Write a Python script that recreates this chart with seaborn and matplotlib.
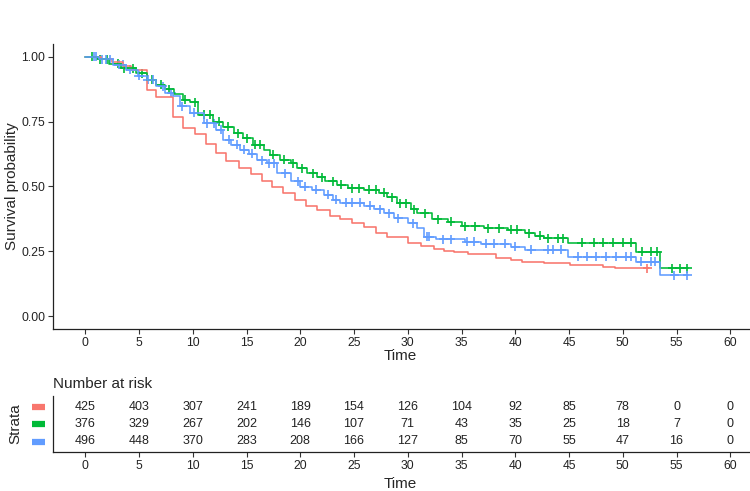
import numpy as np
import pandas as pd
import matplotlib
matplotlib.use("Agg")
import matplotlib.pyplot as plt
import seaborn as sns

sns.set_style("ticks")
plt.rcParams['font.family'] = ['Liberation Sans', 'DejaVu Sans']

# strata names and colours
strata = ["s1", "s2", "s3"]
colors = ["#F8766D", "#00BA38", "#619CFF"]

# step points (time, survival)
red_time = [0, 1.5, 2.5, 3.5, 4.3, 5.7, 6.6, 8.2, 9.1, 10.2, 11.2, 12.2, 13.1, 14.3, 15.4, 16.4,
            17.4, 18.4, 19.5, 20.5, 21.6, 22.8, 23.7, 24.8, 25.9, 27.0, 28.1, 30.0, 31.2, 32.4, 33.4,
            34.3, 35.6, 38.2, 39.6, 40.6, 42.7, 45.1, 48.2, 49.3, 52.4]
red_surv = [1.0, 0.99, 0.978, 0.965, 0.95, 0.873, 0.845, 0.768, 0.726, 0.70, 0.664, 0.63, 0.596, 0.57,
            0.547, 0.522, 0.499, 0.474, 0.448, 0.425, 0.407, 0.386, 0.376, 0.36, 0.342, 0.322, 0.306,
            0.283, 0.27, 0.26, 0.252, 0.248, 0.238, 0.223, 0.216, 0.21, 0.203, 0.196, 0.188, 0.184, 0.184]

green_time = [0, 1.2, 2.2, 3.3, 4.7, 5.7, 6.6, 7.4, 8.3, 9.1, 9.7, 10.5, 11.9, 12.8, 13.8, 14.7, 15.6,
              16.6, 17.2, 18.1, 19.1, 19.7, 20.6, 21.6, 22.3, 23.4, 24.4, 25.9, 27.3, 28.1, 29.0, 30.3,
              30.9, 32.3, 33.7, 35.0, 37.1, 39.3, 40.9, 41.8, 42.7, 44.9, 51.2, 53.5, 56.1]
green_surv = [1.0, 0.99, 0.973, 0.956, 0.937, 0.911, 0.892, 0.875, 0.857, 0.834, 0.824, 0.776, 0.75,
              0.729, 0.705, 0.686, 0.66, 0.641, 0.622, 0.603, 0.59, 0.57, 0.551, 0.536, 0.519, 0.506,
              0.493, 0.486, 0.476, 0.458, 0.435, 0.412, 0.397, 0.373, 0.364, 0.347, 0.339, 0.332, 0.319,
              0.309, 0.30, 0.283, 0.248, 0.184, 0.184]

blue_time = [0, 1.3, 2.6, 3.8, 4.9, 5.7, 6.6, 7.4, 8.2, 8.85, 9.7, 11.0, 12.2, 12.8, 13.6, 14.4, 15.2,
             16.0, 16.9, 17.8, 19.1, 20.0, 21.1, 22.2, 23.0, 23.7, 25.9, 26.9, 27.8, 28.7, 30.0, 30.9,
             31.5, 32.6, 35.3, 36.8, 39.6, 40.9, 44.9, 51.2, 53.5, 56.1]
blue_surv = [1.0, 0.99, 0.969, 0.95, 0.927, 0.911, 0.885, 0.86, 0.849, 0.808, 0.783, 0.744, 0.718, 0.68,
             0.66, 0.641, 0.625, 0.60, 0.59, 0.551, 0.519, 0.499, 0.486, 0.467, 0.448, 0.437, 0.425,
             0.412, 0.397, 0.377, 0.358, 0.339, 0.306, 0.296, 0.287, 0.278, 0.268, 0.255, 0.229, 0.21,
             0.158, 0.158]

# censoring times
red_cens = [52.3]
green_cens = [0.6, 1.4, 2.0, 3.0, 3.6, 4.4, 5.3, 6.2, 7.0, 7.8, 9.3, 10.2, 11.0, 11.6, 12.4, 13.3, 14.2,
              15.0, 15.8, 16.3, 17.5, 18.5, 19.3, 20.2, 21.2, 22.0, 23.0, 23.8, 24.8, 25.5, 26.4, 27.0,
              27.8, 28.5, 29.3, 29.8, 30.6, 31.6, 32.8, 34.0, 35.3, 36.3, 37.5, 38.5, 39.6, 40.2, 41.3,
              42.3, 43.0, 44.0, 44.4, 46.2, 47.3, 48.2, 49.1, 50.0, 50.8, 51.8, 52.6, 53.2, 54.6, 55.3, 56.0]
blue_cens = [0.8, 1.0, 1.6, 1.9, 2.3, 3.1, 3.5, 4.2, 5.0, 5.8, 6.3, 7.2, 8.0, 9.0, 10.1, 11.3, 12.0,
             12.6, 13.4, 14.1, 14.8, 15.5, 16.4, 17.1, 17.6, 18.6, 19.8, 20.4, 21.5, 22.6, 23.3, 24.3,
             24.8, 25.6, 26.5, 27.4, 28.3, 29.1, 30.5, 31.8, 32.0, 33.3, 34.0, 35.5, 36.2, 37.3, 38.0,
             39.0, 40.0, 41.5, 43.0, 43.5, 44.3, 45.8, 46.7, 47.5, 48.4, 49.4, 50.3, 50.8, 51.7, 52.6,
             53.0, 54.8, 56.0]

# number at risk table
risk_times = [0, 5, 10, 15, 20, 25, 30, 35, 40, 45, 50, 55, 60]
red_risk = [425, 403, 307, 241, 189, 154, 126, 104, 92, 85, 78, 0, 0]
green_risk = [376, 329, 267, 202, 146, 107, 71, 43, 35, 25, 18, 7, 0]
blue_risk = [496, 448, 370, 283, 208, 166, 127, 85, 70, 55, 47, 16, 0]

curves = [(red_time, red_surv, red_cens), (green_time, green_surv, green_cens),
          (blue_time, blue_surv, blue_cens)]
risks = [red_risk, green_risk, blue_risk]

line_rows = []
cens_rows = []
for name, (t, s, c) in zip(strata, curves):
    for ti, si in zip(t, s):
        line_rows.append({"time": ti, "surv": si, "strata": name})
    t_arr = np.array(t)
    for ci in c:
        idx = np.searchsorted(t_arr, ci, side="right") - 1
        cens_rows.append({"time": ci, "surv": s[idx], "strata": name})
lines_df = pd.DataFrame(line_rows)
cens_df = pd.DataFrame(cens_rows)
pal = dict(zip(strata, colors))

W, H = 750, 491
fig = plt.figure(figsize=(W / 100, H / 100), dpi=100)
ax = fig.add_axes([53 / W, (H - 329) / H, 709.5 / W, 285.3 / H])
ax2 = fig.add_axes([53 / W, (H - 452) / H, 709.5 / W, 56 / H])

sns.lineplot(data=lines_df, x="time", y="surv", hue="strata", palette=pal, estimator=None,
             sort=False, drawstyle="steps-post", linewidth=1.15, legend=False, ax=ax)
sns.scatterplot(data=cens_df, x="time", y="surv", hue="strata", palette=pal, marker="+",
                s=42, linewidth=1.2, legend=False, ax=ax)

ax.set_xlim(-3, 63)
ax.set_ylim(-0.05, 1.05)
ax.set_xticks(risk_times)
ax.set_yticks([0, 0.25, 0.5, 0.75, 1.0])
ax.set_yticklabels(["0.00", "0.25", "0.50", "0.75", "1.00"])
ax.set_xlabel("Time", fontsize=11, labelpad=2)
ax.xaxis.set_label_coords((400 - 53) / 709.5, -0.07)
ax.set_ylabel("Survival probability", fontsize=11, labelpad=2)
ax.tick_params(labelsize=8.7, length=3.5, width=0.8, color="#333333", labelcolor="#222222", pad=2)
sns.despine(ax=ax)
for sp in ["left", "bottom"]:
    ax.spines[sp].set_linewidth(0.9)
    ax.spines[sp].set_color("#222222")

# risk table
rows = [3, 2, 1]
for risk, row, col in zip(risks, rows, colors):
    for t, n in zip(risk_times, risk):
        ax2.text(t, row, str(n), ha="center", va="center", fontsize=9, color="#222222")
    ax2.plot([-0.0296, -0.0113], [row, row], color=col, lw=4.5,
             transform=ax2.get_yaxis_transform(), clip_on=False, solid_capstyle="butt")
ax2.set_xlim(-3, 63)
ax2.set_ylim(0.4, 3.6)
ax2.set_xticks(risk_times)
ax2.set_yticks([])
ax2.set_xlabel("Time", fontsize=11, labelpad=2)
ax2.xaxis.set_label_coords((400 - 53) / 709.5, -0.44)
ax2.set_ylabel("Strata", fontsize=11, labelpad=22)
ax2.set_title("Number at risk", loc="left", fontsize=11, pad=6)
ax2.tick_params(labelsize=8.7, length=3.5, width=0.8, color="#333333", labelcolor="#222222", pad=2)
sns.despine(ax=ax2)
for sp in ["left", "bottom"]:
    ax2.spines[sp].set_linewidth(0.9)
    ax2.spines[sp].set_color("#222222")

fig.savefig("out.png", dpi=100)
